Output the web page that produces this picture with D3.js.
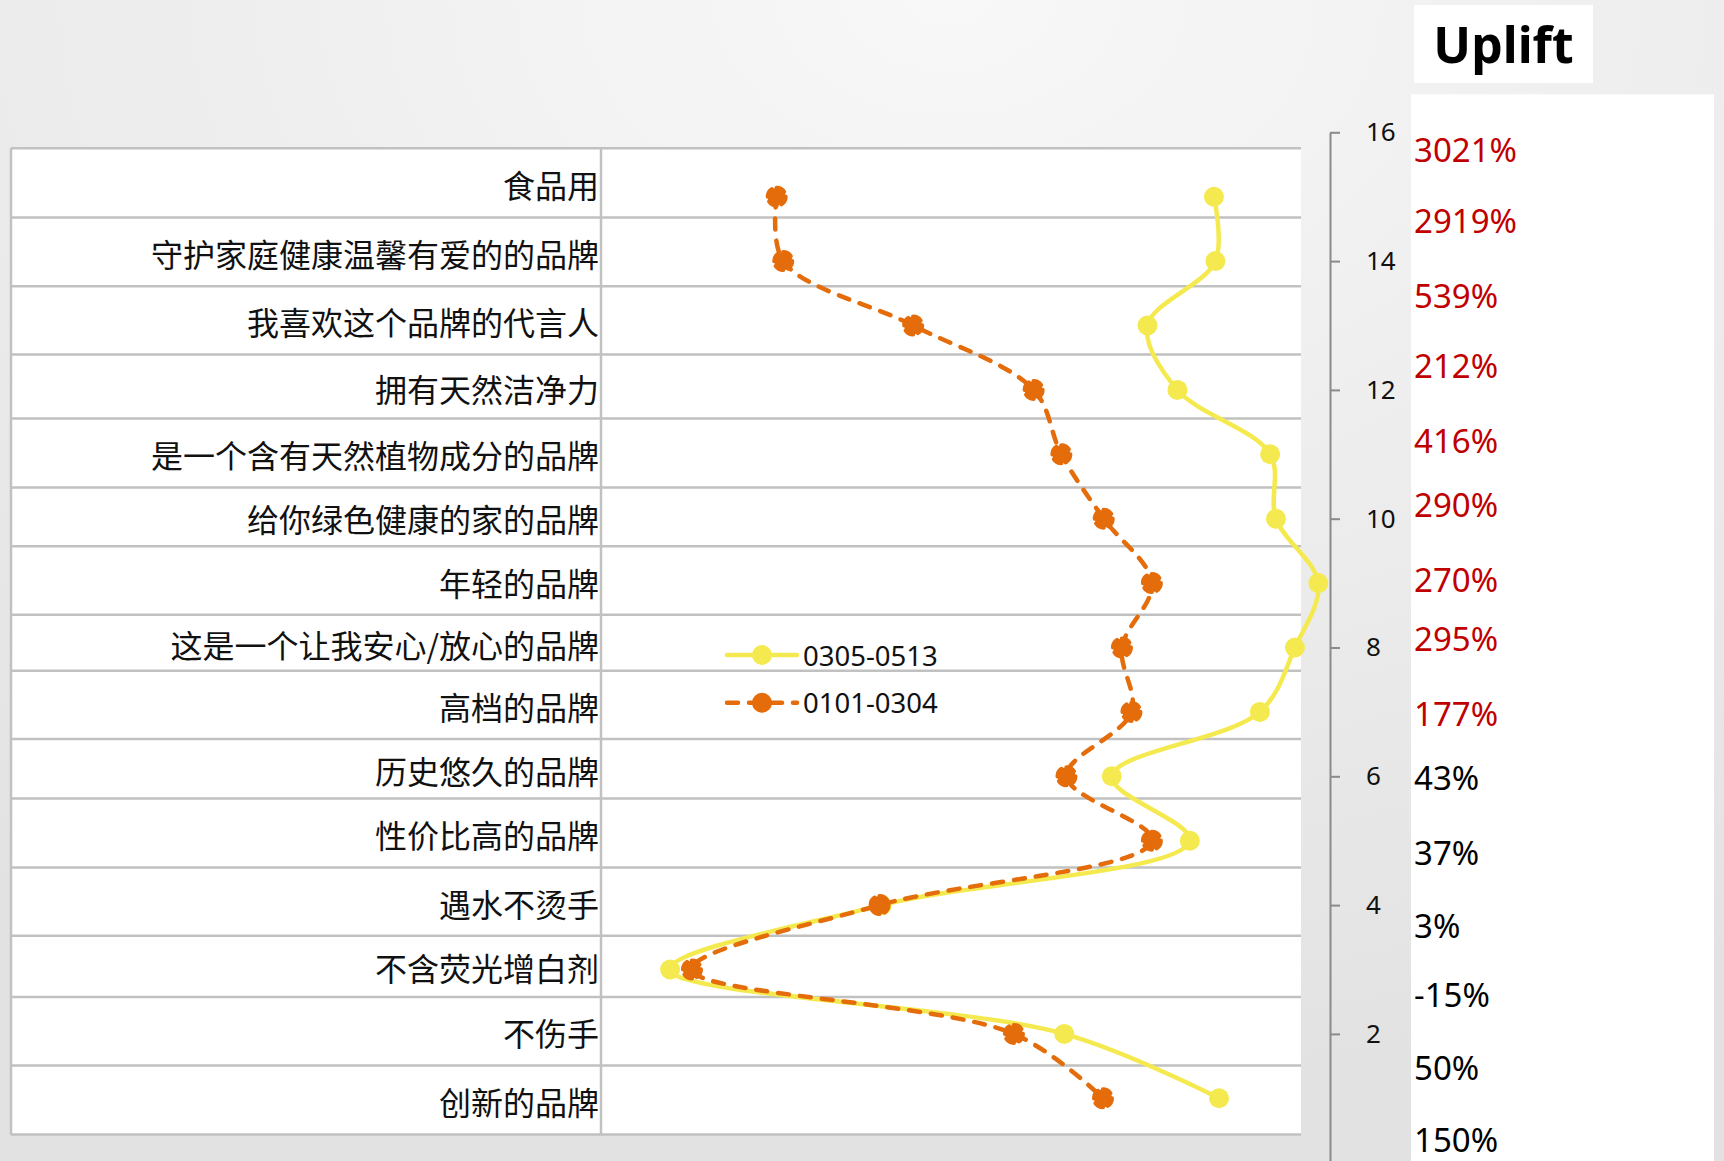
<!DOCTYPE html>
<html lang="zh-CN">
<head>
<meta charset="UTF-8">
<title>Uplift - 品牌形象对比</title>
<style>
    body { margin: 0; background: #e8e8e8; overflow: hidden; }
    svg text { font-family: "Noto Sans", "Noto Sans CJK SC", sans-serif; }
    .cat-label { font-family: "Noto Sans CJK SC", sans-serif; font-size: 32px; fill: #111; }
    .grid-line { stroke: #c1c1c1; stroke-width: 2.5; }
    .y-axis path, .y-axis line { stroke: #8a8a8a; stroke-width: 2; }
    .y-axis text { font-size: 26px; fill: #111; }
    .legend-text { font-size: 27.5px; fill: #111; }
    .uplift-title { font-size: 50px; font-weight: bold; fill: #000; }
    .uplift-value { font-size: 33px; }
</style>
</head>
<body>
<div id="container"></div>
<script src="https://cdn.jsdelivr.net/npm/d3@7/dist/d3.min.js"></script>
<script>

// ---- data ----
var categories = ["食品用", "守护家庭健康温馨有爱的的品牌", "我喜欢这个品牌的代言人", "拥有天然洁净力",
    "是一个含有天然植物成分的品牌", "给你绿色健康的家的品牌", "年轻的品牌", "这是一个让我安心/放心的品牌",
    "高档的品牌", "历史悠久的品牌", "性价比高的品牌", "遇水不烫手", "不含荧光增白剂", "不伤手", "创新的品牌"];
// position of each category on the (right) value axis
var rankY = [15, 14, 13, 12, 11, 10, 9, 8, 7, 6, 5, 4, 3, 2, 1];
var seriesNames = ["0305-0513", "0101-0304"];
var recentValues = [84.1, 84.3, 75.0, 79.1, 91.8, 92.6, 98.4, 95.2, 90.4, 70.1, 80.8, 38.6, 9.6, 63.6, 84.8];
var earlyValues = [24.2, 25.1, 42.9, 59.4, 63.2, 69.0, 75.6, 71.5, 72.8, 63.9, 75.6, 38.3, 12.6, 56.7, 68.9];
var upliftValues = [3021, 2919, 539, 212, 416, 290, 270, 295, 177, 43, 37, 3, -15, 50, 150];
var upliftHighlight = [true, true, true, true, true, true, true, true, true, false, false, false, false, false, false];
var yTicks = [2, 4, 6, 8, 10, 12, 14, 16];
var upliftTitle = "Uplift";

// ---- layout ----
var W = 1724, H = 1161;
var table = { left: 11, split: 601, right: 1301 };
// sheet row borders (rows are not all the same height)
var rowEdges = [148.3, 217.4, 286.3, 354.6, 418.5, 487.5, 546.3, 614.8, 670.7, 739, 798.5, 867.6, 935.7, 996.9, 1065.6, 1134.5];
// baselines of the cells in the uplift column
var upliftRows = [161.7, 233.3, 308.3, 378.3, 453.3, 517.3, 591.7, 650.7, 726, 790, 865, 938.3, 1006.7, 1080, 1152];
var axisX = 1330;
var colors = { recent: "#F4EA50", early: "#E46C0A", red: "#C00000" };

var svg = d3.select("#container").append("svg")
    .attr("width", W)
    .attr("height", H);

// background gradient
var defs = svg.append("defs");
var grad = defs.append("radialGradient")
    .attr("id", "bg")
    .attr("cx", "55%").attr("cy", "0%").attr("r", "95%");
grad.append("stop").attr("offset", "0%").attr("stop-color", "#f8f8f8");
grad.append("stop").attr("offset", "100%").attr("stop-color", "#e2e2e2");
svg.append("rect").attr("width", W).attr("height", H).attr("fill", "url(#bg)");

//scales
var x = d3.scaleLinear().domain([0, 100]).range([600, axisX]);
var y = d3.scaleLinear().domain([0, 16]).range([1162.7, 132.3]);

var tableTop = rowEdges[0], tableBottom = rowEdges[rowEdges.length - 1];

//table behind the chart
var tableG = svg.append("g").attr("class", "table");
tableG.append("rect")
    .attr("x", table.left).attr("y", tableTop)
    .attr("width", table.right - table.left)
    .attr("height", tableBottom - tableTop)
    .attr("fill", "#fff");

tableG.selectAll("line.h").data(rowEdges).enter().append("line")
    .attr("class", "grid-line h")
    .attr("x1", table.left).attr("x2", table.right)
    .attr("y1", function (d) { return d; }).attr("y2", function (d) { return d; });

tableG.selectAll("line.v").data([table.left, table.split]).enter().append("line")
    .attr("class", "grid-line v")
    .attr("x1", function (d) { return d; }).attr("x2", function (d) { return d; })
    .attr("y1", tableTop).attr("y2", tableBottom);

tableG.selectAll("text").data(categories).enter().append("text")
    .attr("class", "cat-label")
    .attr("x", table.split - 2)
    .attr("y", function (d, i) { return (rowEdges[i] + rowEdges[i + 1]) / 2 + 1; })
    .attr("text-anchor", "end")
    .attr("dominant-baseline", "central")
    .text(function (d) { return d; });

//right value axis
var yAxis = d3.axisRight(y)
    .tickValues(yTicks)
    .tickSizeInner(10)
    .tickSizeOuter(0)
    .tickPadding(26);

svg.append("g")
    .attr("class", "y-axis")
    .attr("transform", "translate(" + axisX + ",0)")
    .call(yAxis);

//series lines
var recent = rankY.map(function (r, i) { return { r: r, v: recentValues[i] }; });
var early = rankY.map(function (r, i) { return { r: r, v: earlyValues[i] }; });

var line = d3.line()
    .x(function (d) { return x(d.v); })
    .y(function (d) { return y(d.r); })
    .curve(d3.curveCatmullRom.alpha(0.5));

svg.append("path")
    .datum(recent)
    .attr("d", line)
    .attr("fill", "none")
    .attr("stroke", colors.recent)
    .attr("stroke-width", 4.5)
    .attr("stroke-linecap", "round");

svg.append("g").selectAll("circle").data(recent).enter().append("circle")
    .attr("cx", function (d) { return x(d.v); })
    .attr("cy", function (d) { return y(d.r); })
    .attr("r", 10)
    .attr("fill", colors.recent);

svg.append("path")
    .datum(early)
    .attr("d", line)
    .attr("fill", "none")
    .attr("stroke", colors.early)
    .attr("stroke-width", 4.5)
    .attr("stroke-dasharray", "11,11")
    .attr("stroke-linecap", "round");

svg.append("g").selectAll("circle").data(early).enter().append("circle")
    .attr("cx", function (d) { return x(d.v); })
    .attr("cy", function (d) { return y(d.r); })
    .attr("r", 9)
    .attr("fill", colors.early)
    .attr("stroke", colors.early)
    .attr("stroke-width", 4)
    .attr("stroke-linecap", "round")
    .attr("stroke-dasharray", "9,5");

//legend
var legend = svg.append("g").attr("transform", "translate(727,655)");
var legendItems = [
    { name: seriesNames[0], color: colors.recent, dash: null, r: 10 },
    { name: seriesNames[1], color: colors.early, dash: "11,11", r: 10 }];

var item = legend.selectAll("g").data(legendItems).enter().append("g")
    .attr("transform", function (d, i) { return "translate(0," + i * 47.7 + ")"; });

item.append("line")
    .attr("x1", 0).attr("x2", 70)
    .attr("stroke", function (d) { return d.color; })
    .attr("stroke-width", 4.5)
    .attr("stroke-linecap", "round")
    .attr("stroke-dasharray", function (d) { return d.dash; });

item.append("circle")
    .attr("cx", 35).attr("r", function (d) { return d.r; })
    .attr("fill", function (d) { return d.color; });

item.append("text")
    .attr("class", "legend-text")
    .attr("x", 76)
    .attr("dominant-baseline", "central")
    .text(function (d) { return d.name; });

//uplift column
var upliftG = svg.append("g").attr("class", "uplift");
upliftG.append("rect")
    .attr("x", 1411).attr("y", 94.3)
    .attr("width", 303).attr("height", H - 94.3)
    .attr("fill", "#fff");
upliftG.append("rect")
    .attr("x", 1414).attr("y", 5)
    .attr("width", 179).attr("height", 78)
    .attr("fill", "#fff");
upliftG.append("text")
    .attr("class", "uplift-title")
    .attr("x", 1503.5).attr("y", 63)
    .attr("text-anchor", "middle")
    .text(upliftTitle);

upliftG.selectAll("text.uplift-value").data(upliftValues).enter().append("text")
    .attr("class", "uplift-value")
    .attr("x", 1414)
    .attr("y", function (d, i) { return upliftRows[i]; })
    .attr("fill", function (d, i) { return upliftHighlight[i] ? colors.red : "#000"; })
    .text(function (d) { return d + "%"; });

</script>
</body>
</html>
